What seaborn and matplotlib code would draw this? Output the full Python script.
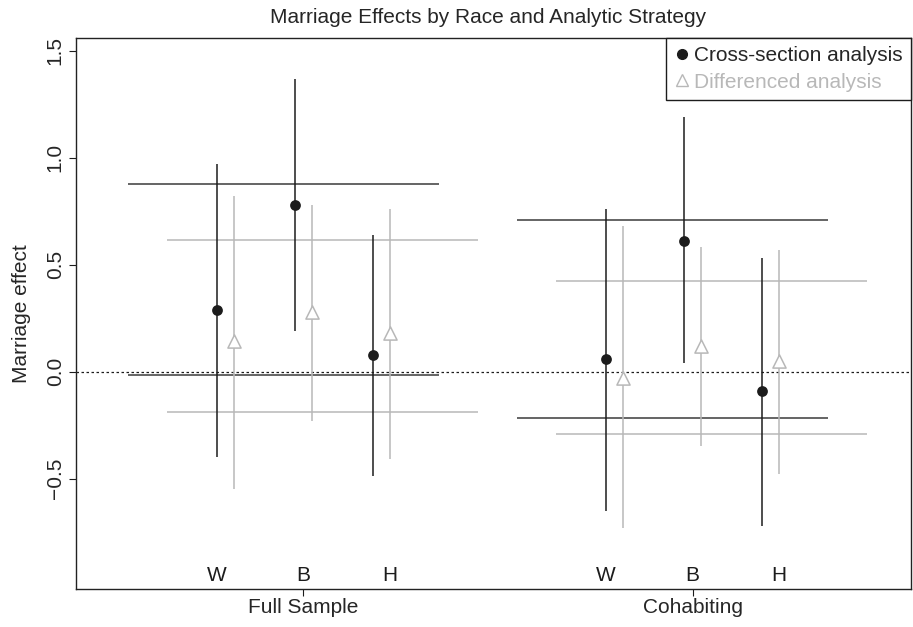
import numpy as np
import pandas as pd
import matplotlib
matplotlib.use("Agg")
import matplotlib.pyplot as plt
import seaborn as sns
from matplotlib.lines import Line2D

# groups and races
groups = ["Full Sample", "Cohabiting"]
races = ["W", "B", "H"]

# cross-section estimates and intervals (Full Sample then Cohabiting)
cross_est = [0.29, 0.78, 0.08, 0.06, 0.61, -0.09]
cross_lo = [-0.40, 0.19, -0.49, -0.65, 0.04, -0.72]
cross_hi = [0.97, 1.37, 0.64, 0.76, 1.19, 0.53]

# differenced estimates and intervals
diff_est = [0.145, 0.28, 0.18, -0.03, 0.12, 0.05]
diff_lo = [-0.55, -0.23, -0.41, -0.73, -0.35, -0.48]
diff_hi = [0.82, 0.78, 0.76, 0.68, 0.585, 0.57]

# horizontal reference levels per group (upper, lower)
cross_band = [[0.875, -0.015], [0.707, -0.217]]
diff_band = [[0.615, -0.188], [0.423, -0.293]]

BLACK = "#1c1c1c"
GRAY = "#b8b8b8"
FS = 15

sns.set_theme(style="ticks")
plt.rcParams["font.family"] = ["Liberation Sans", "DejaVu Sans"]

# layout of positions
group_shift = 4.5
label_x = [g * group_shift + 1 + i for g in range(len(groups)) for i in range(len(races))]
cross_x = [g * group_shift + 1 + 0.9 * i for g in range(len(groups)) for i in range(len(races))]
diff_x = [x + 0.2 for x in cross_x]

df = pd.DataFrame({
    "group": np.repeat(groups, len(races)),
    "race": races * len(groups),
    "cross_x": cross_x, "cross": cross_est, "cross_lo": cross_lo, "cross_hi": cross_hi,
    "diff_x": diff_x, "diff": diff_est, "diff_lo": diff_lo, "diff_hi": diff_hi,
})

fig = plt.figure(figsize=(9.13, 6.27), dpi=100)
ax = fig.add_axes([0.0832, 0.0611, 0.9146, 0.8783])

# reference bands
for g in range(len(groups)):
    start = g * group_shift - 0.03
    ax.hlines(cross_band[g], start, start + 3.6, color="#3a3a3a", lw=1.1, zorder=1)
    ax.hlines(diff_band[g], start + 0.45, start + 4.05, color=GRAY, lw=1.1, zorder=1)

ax.axhline(0, color=BLACK, lw=0.9, ls=(0, (2, 2)), zorder=1)

# intervals
ax.vlines(df["cross_x"], df["cross_lo"], df["cross_hi"], color=BLACK, lw=1.1, zorder=2)
ax.vlines(df["diff_x"], df["diff_lo"], df["diff_hi"], color=GRAY, lw=1.1, zorder=2)

sns.scatterplot(data=df, x="cross_x", y="cross", ax=ax, color=BLACK, marker="o",
                s=60, edgecolor=BLACK, linewidth=0, zorder=3)
sns.scatterplot(data=df, x="diff_x", y="diff", ax=ax, marker="^", s=90,
                facecolor="white", edgecolor=GRAY, linewidth=1.1, zorder=3)

# race labels inside the plot
for x, r in zip(label_x, df["race"]):
    ax.text(x, -0.955, r, ha="center", va="center", fontsize=FS, color=BLACK)

ax.set_xlim(-0.631, 9.027)
ax.set_ylim(-1.015, 1.56)
ax.set_xticks([2, 2 + group_shift])
ax.set_xticklabels(groups, fontsize=FS)
ax.set_yticks([-0.5, 0.0, 0.5, 1.0, 1.5])
ax.set_yticklabels(["\u22120.5", "0.0", "0.5", "1.0", "1.5"], fontsize=FS, rotation=90, va="center")
ax.tick_params(direction="out", length=5, width=0.8, color=BLACK, pad=3)
ax.tick_params(axis="x", pad=2)
ax.set_xlabel("")
ax.set_ylabel("Marriage effect", fontsize=FS, labelpad=11)
for sp in ax.spines.values():
    sp.set_visible(True)
    sp.set_color("#222222")
    sp.set_linewidth(1.0)

fig.text(0.535, 0.972, "Marriage Effects by Race and Analytic Strategy", ha="center",
         va="center", fontsize=FS)

handles = [
    Line2D([], [], marker="o", color=BLACK, ls="none", markersize=7),
    Line2D([], [], marker="^", markerfacecolor="white", markeredgecolor=GRAY, ls="none", markersize=8),
]
leg = ax.legend(handles, ["Cross-section analysis", "Differenced analysis"], loc="upper right",
                fontsize=FS, frameon=True, fancybox=False, framealpha=1, edgecolor=BLACK,
                handlelength=0.7, handletextpad=0.25, borderpad=0.4, borderaxespad=0,
                labelspacing=0.35)
leg.get_frame().set_linewidth(1.0)
leg.get_texts()[1].set_color(GRAY)

fig.savefig("out.png", dpi=100)
